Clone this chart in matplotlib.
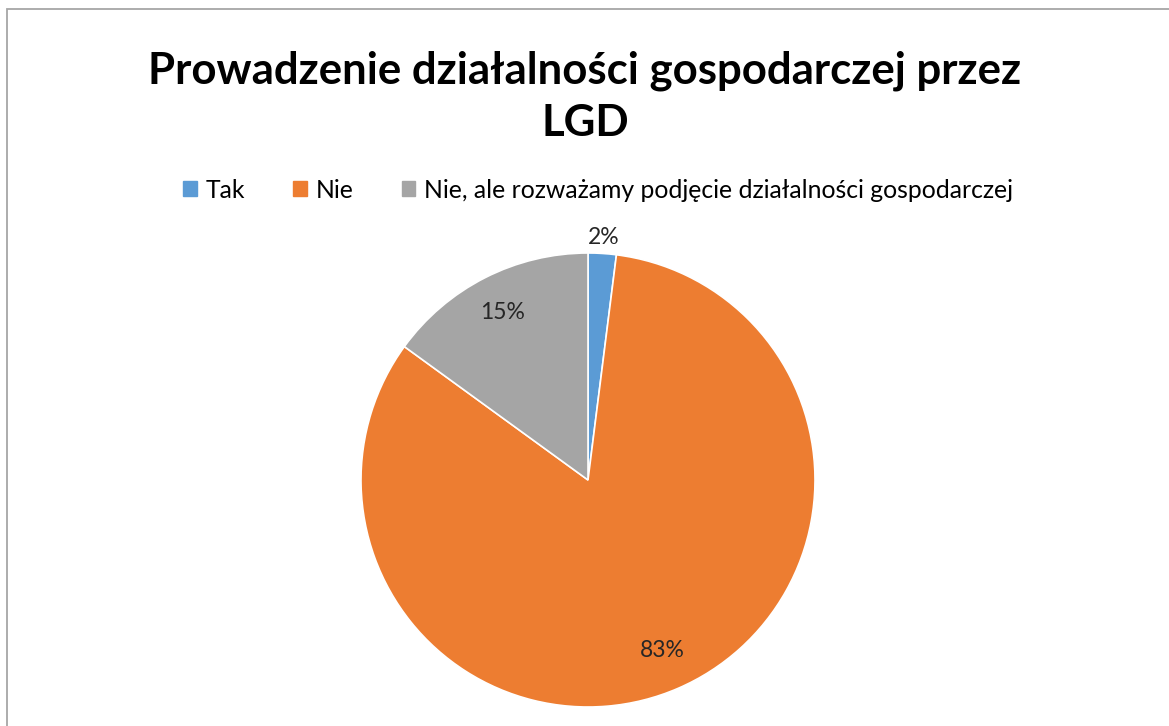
import matplotlib.pyplot as plt
from matplotlib.patches import Rectangle
import numpy as np

labels = ["Tak", "Nie", "Nie, ale rozważamy podjęcie działalności gospodarczej"]
values = [2, 83, 15]
colors = ["#5B9BD5", "#ED7D31", "#A5A5A5"]
# radial position of each percentage label (fraction of radius)
label_r = [1.07, 0.82, 0.83]

plt.rcParams['font.family'] = ['Lato', 'DejaVu Sans']

W, H = 1169, 726
fig = plt.figure(figsize=(W / 100, H / 100), dpi=100)

# outer chart frame
fig.patches.append(Rectangle((7 / W, -0.1), 1.2, 1 - 9 / H + 0.1, transform=fig.transFigure,
                             fill=False, edgecolor="#A6A6A6", linewidth=1.3))

fig.text(585 / W, 1 - 97 / H, "Prowadzenie działalności gospodarczej przez\nLGD",
         ha="center", va="center", fontsize=31.5, fontweight="bold", linespacing=1.35)

cx, cy, r = 588, 480, 227
ax = fig.add_axes([(cx - r) / W, (H - cy - r) / H, 2 * r / W, 2 * r / H])
wedges, _ = ax.pie(values, colors=colors, startangle=90, counterclock=False,
                   wedgeprops=dict(edgecolor="white", linewidth=1.2))
ax.set_aspect("equal")
ax.set_xlim(-1, 1)
ax.set_ylim(-1, 1)

for w, v, rr in zip(wedges, values, label_r):
    ang = np.deg2rad((w.theta1 + w.theta2) / 2)
    ax.text(rr * np.cos(ang), rr * np.sin(ang), f"{v}%", ha="center", va="center",
            fontsize=16.5, color="#262626")

handles = [Rectangle((0, 0), 1, 1, color=c) for c in colors]
fig.legend(handles, labels, loc="center", bbox_to_anchor=(598 / W, 1 - 190 / H), ncol=3,
           frameon=False, fontsize=17.8, handlelength=0.55, handleheight=0.55,
           handletextpad=0.35, columnspacing=1.95)

fig.savefig("out.png", dpi=100)
